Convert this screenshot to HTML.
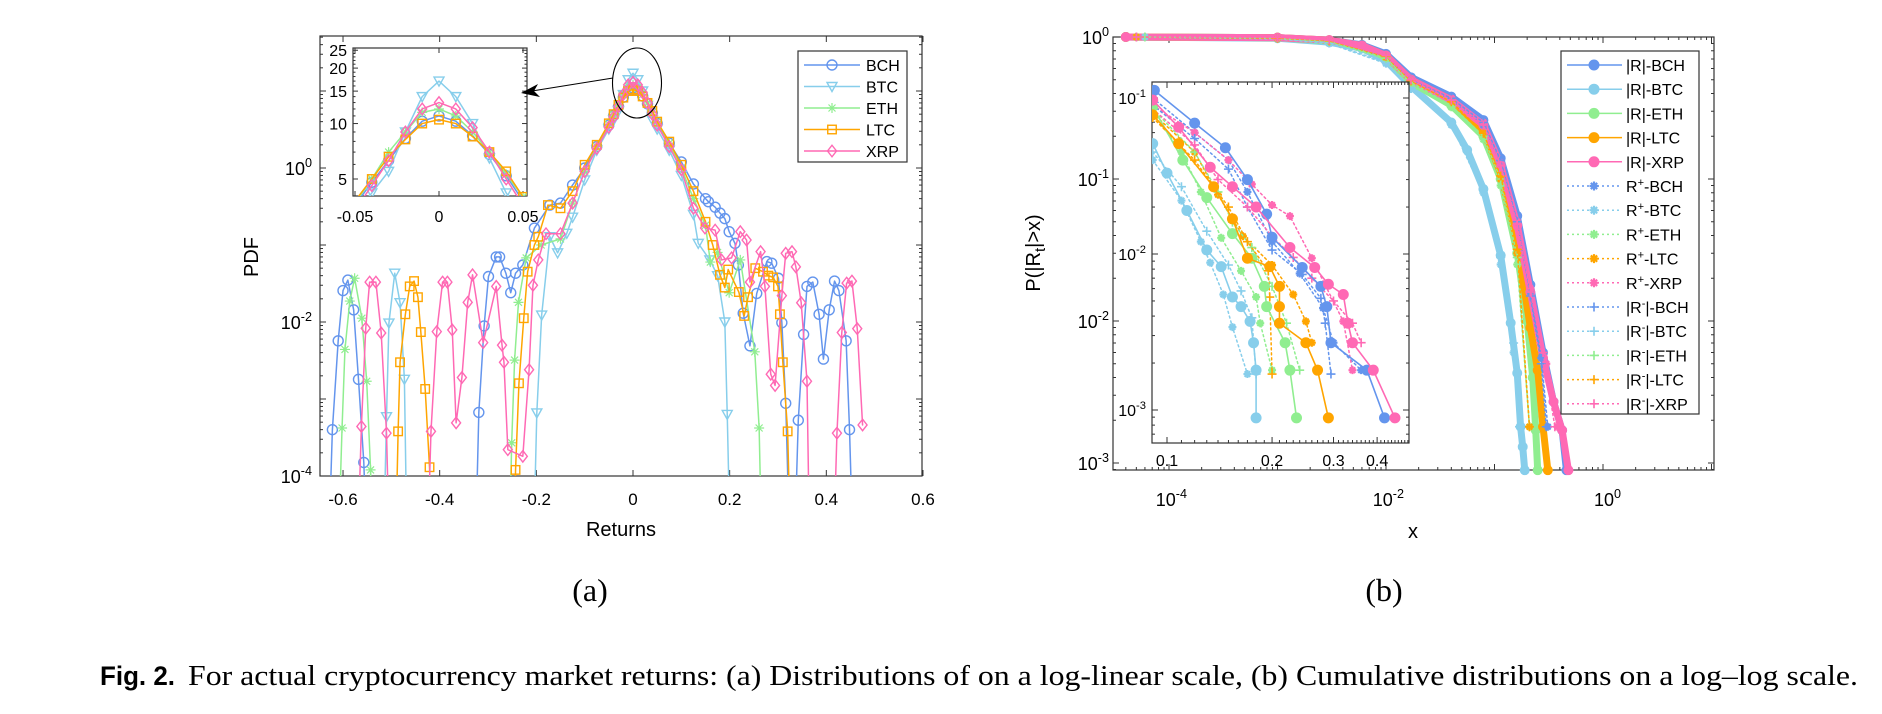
<!DOCTYPE html>
<html><head><meta charset="utf-8"><style>
html,body{margin:0;padding:0;background:#fff;width:1882px;height:714px;overflow:hidden;}
svg{display:block;font-family:"Liberation Sans",sans-serif;overflow:hidden;}
</style></head><body>
<svg id="fig" width="1882" height="714" viewBox="0 0 1882 714" xmlns="http://www.w3.org/2000/svg">
<defs>
<clipPath id="clipL"><rect x="320" y="36" width="602" height="440"/></clipPath>
<clipPath id="clipLI"><rect x="353" y="48" width="174" height="148"/></clipPath>
<clipPath id="clipR"><rect x="1113" y="30" width="601" height="446"/></clipPath>
<clipPath id="clipRI"><rect x="1152" y="82" width="257" height="361"/></clipPath>
</defs>
<g id="panelA"></g>
<g id="panelB"></g>
<text x="590" y="601" font-family="Liberation Serif,serif" font-size="32" text-anchor="middle">(a)</text>
<text x="1384" y="601" font-family="Liberation Serif,serif" font-size="32" text-anchor="middle">(b)</text>
<text x="100" y="685" font-family="Liberation Sans,sans-serif" font-weight="bold" font-size="27" textLength="75" lengthAdjust="spacingAndGlyphs">Fig. 2.</text>
<text x="188" y="685" font-family="Liberation Serif,serif" font-size="29" textLength="1670" lengthAdjust="spacingAndGlyphs">For actual cryptocurrency market returns: (a) Distributions of on a log-linear scale, (b) Cumulative distributions on a log–log scale.</text>
</svg>
<script>
// ---------- Panel (a) data: returns and PDF ----------
const bchR=[-0.635,-0.622,-0.610,-0.600,-0.590,-0.578,-0.568,-0.557,-0.545,-0.33,-0.319,-0.308,-0.299,-0.283,-0.276,-0.263,-0.253,-0.243,-0.228,-0.204,-0.172,-0.15,-0.125,-0.1,-0.075,-0.05,-0.04,-0.03,-0.02,-0.01,0,0.01,0.02,0.03,0.04,0.05,0.075,0.1,0.125,0.15,0.156,0.170,0.180,0.190,0.199,0.211,0.218,0.228,0.242,0.256,0.277,0.287,0.301,0.308,0.316,0.329,0.342,0.353,0.360,0.372,0.385,0.394,0.406,0.417,0.426,0.441,0.448,0.46];
const bchP=[1e-6,0.0004,0.0057,0.0256,0.035,0.0144,0.0018,0.00015,1e-6,1e-6,0.00067,0.0089,0.039,0.07,0.07,0.043,0.024,0.043,0.055,0.166,0.33,0.35,0.6,1.0,1.9,3.6,4.8,6.3,8.3,10.3,11,10.3,8.6,6.8,5.2,3.8,2.1,1.2,0.62,0.4,0.365,0.31,0.26,0.22,0.149,0.105,0.055,0.013,0.0049,0.0235,0.061,0.058,0.037,0.0098,0.00088,1e-6,0.00053,0.0069,0.029,0.033,0.0126,0.0033,0.0144,0.034,0.0256,0.0057,0.0004,1e-6];
const btcR=[-0.52,-0.510,-0.505,-0.493,-0.482,-0.473,-0.465,-0.21,-0.199,-0.189,-0.172,-0.156,-0.137,-0.125,-0.1,-0.075,-0.05,-0.04,-0.03,-0.02,-0.01,0,0.01,0.02,0.03,0.04,0.05,0.075,0.1,0.125,0.135,0.159,0.175,0.190,0.195,0.205];
const btcP=[1e-6,0.00059,0.0097,0.043,0.0178,0.0018,1e-6,1e-6,0.00066,0.0123,0.128,0.079,0.142,0.23,0.7,1.7,3.2,4.2,5.5,9,14,17,14,10,6.5,4.2,3.2,1.7,0.8,0.25,0.105,0.064,0.04,0.01,0.00063,1e-6];
const ethR=[-0.615,-0.602,-0.596,-0.586,-0.576,-0.561,-0.551,-0.543,-0.535,-0.26,-0.251,-0.245,-0.237,-0.221,-0.19,-0.15,-0.125,-0.1,-0.075,-0.05,-0.04,-0.03,-0.02,-0.01,0,0.01,0.02,0.03,0.04,0.05,0.075,0.1,0.125,0.15,0.16,0.175,0.199,0.222,0.252,0.261,0.27];
const ethP=[1e-6,0.00042,0.0044,0.0187,0.037,0.0112,0.0017,0.00012,1e-6,1e-6,0.00027,0.0032,0.018,0.068,0.1,0.12,0.35,0.9,1.9,3.7,5,7,9,11.5,12,11,9,7,5.3,4,2.1,1.0,0.4,0.18,0.06,0.08,0.024,0.064,0.0041,0.00042,1e-6];
const ltcR=[-0.495,-0.486,-0.482,-0.471,-0.462,-0.453,-0.445,-0.439,-0.430,-0.421,-0.41,-0.25,-0.243,-0.236,-0.226,-0.218,-0.204,-0.196,-0.176,-0.15,-0.125,-0.1,-0.075,-0.05,-0.04,-0.03,-0.02,-0.01,0,0.01,0.02,0.03,0.04,0.05,0.075,0.1,0.125,0.15,0.165,0.180,0.190,0.197,0.219,0.230,0.238,0.253,0.269,0.280,0.290,0.300,0.304,0.31,0.320,0.33];
const ltcP=[1e-6,0.00038,0.003,0.0126,0.029,0.034,0.021,0.0074,0.00135,0.00013,1e-6,1e-6,0.00012,0.0016,0.0112,0.045,0.1,0.128,0.33,0.3,0.5,1.1,2.0,3.8,5.0,6.6,8.2,10,10.5,10,8.5,7,5.5,4.0,2.2,1.1,0.5,0.2,0.1,0.041,0.028,0.048,0.0245,0.012,0.021,0.05,0.045,0.04,0.038,0.029,0.0126,0.003,0.00038,1e-6];
const xrpR=[-0.575,-0.562,-0.553,-0.545,-0.532,-0.521,-0.510,-0.50,-0.43,-0.418,-0.406,-0.394,-0.384,-0.374,-0.366,-0.354,-0.342,-0.332,-0.31,-0.283,-0.271,-0.267,-0.259,-0.228,-0.215,-0.207,-0.196,-0.18,-0.15,-0.125,-0.1,-0.075,-0.05,-0.04,-0.03,-0.02,-0.01,0,0.01,0.02,0.03,0.04,0.05,0.075,0.1,0.125,0.149,0.170,0.183,0.204,0.222,0.235,0.242,0.264,0.273,0.285,0.294,0.308,0.316,0.329,0.337,0.348,0.360,0.368,0.41,0.422,0.432,0.442,0.453,0.464,0.475];
const xrpP=[1e-6,0.00044,0.0083,0.033,0.033,0.0072,0.00036,1e-6,1e-6,0.00038,0.0075,0.033,0.033,0.0079,0.00049,0.0019,0.018,0.041,0.0054,0.029,0.005,0.003,0.00022,0.00018,0.0024,0.03,0.064,0.14,0.14,0.35,0.9,1.8,3.4,4.6,6.3,9,12,13,12,9.5,7,5,3.6,1.9,0.95,0.3,0.166,0.156,0.064,0.068,0.149,0.116,0.033,0.082,0.029,0.0021,0.0015,0.022,0.078,0.082,0.052,0.0178,0.0017,1e-6,1e-6,0.00036,0.0073,0.032,0.034,0.0082,0.00046];
const xTicksA=[-0.6,-0.4,-0.2,0,0.2,0.4,0.6];
const xTickLabelsA=['-0.6','-0.4','-0.2','0','0.2','0.4','0.6'];
const yTicksInsetA=[5,10,15,20,25];
const xTicksInsetA=[-0.05,0,0.05];

// ---------- Panel (b) data: CCDF ----------
const mBchX=[0.00004,0.001,0.003,0.006,0.01,0.017,0.04,0.079,0.114,0.162,0.214,0.28,0.35,0.42,0.46];
const mBchP=[1,0.99,0.95,0.88,0.76,0.52,0.38,0.26,0.14,0.055,0.018,0.006,0.0027,0.0017,0.00089];
const mBtcX=[0.00004,0.001,0.003,0.006,0.01,0.017,0.04,0.056,0.079,0.114,0.141,0.162,0.174,0.182,0.19];
const mBtcP=[1,0.98,0.92,0.83,0.68,0.45,0.25,0.16,0.085,0.029,0.0097,0.0043,0.0018,0.0013,0.00089];
const mEthX=[0.00004,0.001,0.003,0.006,0.01,0.017,0.04,0.079,0.114,0.162,0.2,0.225,0.24,0.25];
const mEthP=[1,0.99,0.94,0.86,0.72,0.48,0.33,0.2,0.1,0.03,0.01,0.004,0.0017,0.00089];
const mLtcX=[0.00004,0.001,0.003,0.006,0.01,0.017,0.04,0.079,0.114,0.162,0.214,0.25,0.28,0.31];
const mLtcP=[1,0.99,0.95,0.87,0.74,0.5,0.36,0.22,0.11,0.035,0.009,0.0045,0.0018,0.00089];
const mXrpX=[0.00004,0.001,0.003,0.006,0.01,0.017,0.04,0.079,0.114,0.162,0.214,0.28,0.35,0.42,0.48];
const mXrpP=[1,0.99,0.95,0.87,0.74,0.5,0.36,0.24,0.125,0.047,0.016,0.0055,0.0027,0.0017,0.00089];
const pBchX=[0.00005,0.001,0.003,0.01,0.017,0.04,0.079,0.114,0.162,0.214,0.27,0.31];
const pBchP=[1,0.98,0.93,0.72,0.5,0.36,0.24,0.13,0.05,0.016,0.0055,0.0018];
const pBtcX=[0.00006,0.001,0.003,0.01,0.017,0.04,0.079,0.114,0.15,0.174];
const pBtcP=[1,0.97,0.9,0.65,0.43,0.24,0.08,0.025,0.006,0.0018];
const pEthX=[0.00005,0.001,0.003,0.01,0.017,0.04,0.079,0.114,0.162,0.21];
const pEthP=[1,0.98,0.93,0.7,0.47,0.32,0.19,0.09,0.025,0.0018];
const pLtcX=[0.00005,0.001,0.003,0.01,0.017,0.04,0.079,0.114,0.162,0.21];
const pLtcP=[1,0.98,0.94,0.72,0.49,0.35,0.21,0.1,0.03,0.0018];
const pXrpX=[0.00004,0.001,0.003,0.01,0.017,0.04,0.079,0.114,0.162,0.214,0.3,0.38];
const pXrpP=[1,0.99,0.95,0.74,0.5,0.37,0.25,0.13,0.05,0.017,0.005,0.0018];
const nBchX=[0.00005,0.001,0.003,0.01,0.017,0.04,0.079,0.114,0.162,0.214,0.27,0.3];
const nBchP=[1,0.98,0.94,0.73,0.5,0.37,0.25,0.135,0.05,0.015,0.005,0.0018];
const nBtcX=[0.00005,0.001,0.003,0.01,0.017,0.04,0.079,0.114,0.15,0.17];
const nBtcP=[1,0.98,0.91,0.66,0.44,0.25,0.085,0.028,0.007,0.0018];
const nEthX=[0.00006,0.001,0.003,0.01,0.017,0.04,0.079,0.114,0.162,0.21];
const nEthP=[1,0.98,0.93,0.71,0.48,0.33,0.2,0.1,0.028,0.0018];
const nLtcX=[0.00005,0.001,0.003,0.01,0.017,0.04,0.079,0.114,0.162,0.21];
const nLtcP=[1,0.98,0.94,0.73,0.49,0.35,0.21,0.105,0.032,0.0018];
const nXrpX=[0.00005,0.001,0.003,0.01,0.017,0.04,0.079,0.114,0.162,0.214,0.28,0.36];
const nXrpP=[1,0.99,0.95,0.74,0.5,0.36,0.24,0.125,0.048,0.016,0.006,0.0018];
// inset (b)
const iBchX=[0.092,0.12,0.147,0.17,0.193,0.2,0.244,0.276,0.287,0.295,0.374,0.42];
const iBchP=[0.112,0.069,0.048,0.030,0.018,0.0128,0.0082,0.0062,0.0046,0.0027,0.0018,0.00089];
const iBtcX=[0.091,0.1,0.114,0.13,0.143,0.154,0.163,0.173,0.177,0.18,0.18];
const iBtcP=[0.051,0.033,0.019,0.0106,0.0083,0.0053,0.0046,0.0037,0.0027,0.0018,0.00089];
const iEthX=[0.091,0.111,0.13,0.154,0.175,0.19,0.193,0.218,0.225,0.235];
const iEthP=[0.088,0.040,0.023,0.0135,0.0094,0.0062,0.0046,0.0027,0.0018,0.00089];
const iLtcX=[0.091,0.108,0.136,0.154,0.17,0.197,0.21,0.21,0.21,0.25,0.27,0.29];
const iLtcP=[0.078,0.051,0.027,0.0168,0.0094,0.0083,0.0062,0.0046,0.0036,0.0027,0.0018,0.00089];
const iXrpX=[0.091,0.108,0.133,0.154,0.18,0.225,0.265,0.29,0.32,0.33,0.34,0.39,0.45];
const iXrpP=[0.097,0.065,0.036,0.027,0.020,0.011,0.0082,0.0064,0.0055,0.0036,0.0027,0.0018,0.00089];
const ipBchX=[0.091,0.12,0.15,0.17,0.2,0.24,0.28,0.3,0.36];
const ipBchP=[0.1,0.06,0.04,0.025,0.012,0.0075,0.0045,0.0027,0.0018];
const ipBtcX=[0.091,0.11,0.125,0.133,0.145,0.154,0.17];
const ipBtcP=[0.04,0.022,0.012,0.0088,0.0055,0.0034,0.0017];
const ipEthX=[0.091,0.11,0.125,0.143,0.163,0.18,0.185,0.2];
const ipEthP=[0.08,0.045,0.025,0.0127,0.0078,0.0053,0.0036,0.0018];
const ipLtcX=[0.091,0.12,0.14,0.165,0.2,0.23,0.25,0.26];
const ipLtcP=[0.08,0.045,0.024,0.013,0.0085,0.0055,0.0037,0.0027];
const ipXrpX=[0.091,0.12,0.15,0.175,0.2,0.225,0.26,0.32,0.34];
const ipXrpP=[0.09,0.06,0.04,0.028,0.0206,0.0175,0.0094,0.0037,0.0018];
const inBchX=[0.091,0.12,0.15,0.17,0.2,0.244,0.276,0.284,0.295];
const inBchP=[0.09,0.055,0.035,0.02,0.0106,0.0074,0.0052,0.0036,0.0017];
const inBtcX=[0.091,0.11,0.13,0.15,0.163,0.175,0.18];
const inBtcP=[0.045,0.027,0.014,0.0085,0.0058,0.0039,0.0017];
const inEthX=[0.091,0.12,0.14,0.154,0.175,0.2,0.22,0.24];
const inEthP=[0.085,0.045,0.025,0.016,0.011,0.0062,0.0036,0.0018];
const inLtcX=[0.091,0.12,0.15,0.17,0.195,0.197,0.2];
const inLtcP=[0.075,0.04,0.02,0.012,0.0078,0.0053,0.0017];
const inXrpX=[0.091,0.12,0.14,0.17,0.2,0.23,0.26,0.3,0.34,0.36];
const inXrpP=[0.085,0.05,0.03,0.02,0.013,0.0095,0.007,0.005,0.0036,0.0027];

const C={BCH:'#6495ED',BTC:'#87CEEB',ETH:'#90EE90',LTC:'#FFA500',XRP:'#FF69B4'};
const NS='http://www.w3.org/2000/svg';
function mk(tag,attrs,parent){const e=document.createElementNS(NS,tag);for(const k in attrs)e.setAttribute(k,attrs[k]);parent.appendChild(e);return e;}
function txt(parent,x,y,s,size,anchor,name){const t=mk('text',{x:x,y:y,'font-size':size,'text-anchor':anchor||'middle'},parent);t.textContent=s;


return t;}
function pow10(parent,x,y,exp,size,name){const t=mk('text',{x:x,y:y,'font-size':size,'text-anchor':'end'},parent);


const a=mk('tspan',{},t);a.textContent='10';const b=mk('tspan',{dy:-size*0.45,'font-size':size*0.7},t);b.textContent=exp;return t;}
function marker(g,type,cx,cy,c,s){let e;
 if(type==='o')e=mk('circle',{cx:cx,cy:cy,r:s,fill:'none',stroke:c,'stroke-width':1.4},g);
 else if(type==='O')e=mk('circle',{cx:cx,cy:cy,r:s,fill:c,stroke:c,'stroke-width':1},g);
 else if(type==='v')e=mk('polygon',{points:`${cx-s},${cy-s*0.8} ${cx+s},${cy-s*0.8} ${cx},${cy+s}`,fill:'none',stroke:c,'stroke-width':1.4},g);
 else if(type==='s')e=mk('rect',{x:cx-s*0.85,y:cy-s*0.85,width:s*1.7,height:s*1.7,fill:'none',stroke:c,'stroke-width':1.4},g);
 else if(type==='d')e=mk('polygon',{points:`${cx},${cy-s*1.15} ${cx+s*0.9},${cy} ${cx},${cy+s*1.15} ${cx-s*0.9},${cy}`,fill:'none',stroke:c,'stroke-width':1.4},g);
 else if(type==='*'||type==='S'){const r=s,q=s*0.7;e=mk('path',{d:`M${cx-r},${cy}H${cx+r}M${cx},${cy-r}V${cy+r}M${cx-q},${cy-q}L${cx+q},${cy+q}M${cx-q},${cy+q}L${cx+q},${cy-q}`,stroke:c,'stroke-width':type==='S'?2.2:1.2,fill:'none'},g);}
 else if(type==='+')e=mk('path',{d:`M${cx-s},${cy}H${cx+s}M${cx},${cy-s}V${cy+s}`,stroke:c,'stroke-width':1.6,fill:'none'},g);
 
 
 return e;}
function series(parent,xs,ys,fx,fy,c,mtype,ms,lw,dash,clip,name){
 const g=mk('g',{'clip-path':`url(#${clip})`},parent);
 
 
 const pts=xs.map((x,i)=>fx(x).toFixed(2)+','+fy(ys[i]).toFixed(2)).join(' ');
 const pl=mk('polyline',{points:pts,fill:'none',stroke:c,'stroke-width':lw,'stroke-linejoin':'round','stroke-linecap':'round'},g);
 if(dash)pl.setAttribute('stroke-dasharray',dash);
 
 
 xs.forEach((x,i)=>{if(ys[i]>1e-5)marker(g,mtype,fx(x),fy(ys[i]),c,ms);});
}
function line(p,x1,y1,x2,y2,sw,col){return mk('line',{x1:x1,y1:y1,x2:x2,y2:y2,stroke:col||'#333','stroke-width':sw||1},p);}

// ================= PANEL A =================
const A=document.getElementById('panelA');
const L={x0:320,x1:922,y0:36,y1:476};
const xL=r=>633+r*483.3, yL=p=>168-Math.log10(p)*77;
const xI=r=>439+r*1680, yI=v=>179-Math.log(v/5)*80;
const axA=mk('rect',{x:L.x0,y:L.y0,width:L.x1-L.x0,height:L.y1-L.y0,fill:'#fff',stroke:'#333','stroke-width':1.2},A);


xTicksA.forEach((t,i)=>{const x=xL(t);line(A,x,L.y1,x,L.y1-6);line(A,x,L.y0,x,L.y0+6);txt(A,x,505,xTickLabelsA[i],17,'middle','x-tick-label');});
for(let d=-4;d<=1;d++){for(let k=1;k<10;k++){const y=yL(k*Math.pow(10,d));if(y<L.y0||y>L.y1)continue;const len=k===1?6:3;line(A,L.x0,y,L.x0+len,y);line(A,L.x1,y,L.x1-len,y);}}
[[-4,'-4'],[-2,'-2'],[0,'0']].forEach(([d,s])=>pow10(A,312,yL(Math.pow(10,d))+7,s,18,'y-tick-label'));
txt(A,621,536,'Returns',20,'middle','x-axis-title');
const yl=txt(A,0,0,'PDF',20,'middle','y-axis-title');yl.setAttribute('transform','translate(258,257) rotate(-90)');
const SA=[['BCH',bchR,bchP,'o'],['BTC',btcR,btcP,'v'],['ETH',ethR,ethP,'*'],['LTC',ltcR,ltcP,'s'],['XRP',xrpR,xrpP,'d']];
SA.forEach(([n,r,p,m])=>series(A,r,p,xL,yL,C[n],m,5,1.5,null,'clipL','series-'+n.toLowerCase()));
// inset a
const ia=mk('rect',{x:353,y:48,width:174,height:148,fill:'#fff',stroke:'#333','stroke-width':1.2},A);


for(let v=4;v<=26;v++){const y=yI(v);if(y<48||y>196)continue;const len=(v%5===0)?5:2.5;line(A,353,y,353+len,y);line(A,527,y,527-len,y);}
yTicksInsetA.forEach(v=>txt(A,347,yI(v)+6,String(v),16,'end','inset-y-tick-label'));
xTicksInsetA.forEach(v=>{const x=xI(v);line(A,x,196,x,191);line(A,x,48,x,53);txt(A,x,222,String(v),16,'middle','inset-x-tick-label');});
SA.forEach(([n,r,p,m])=>series(A,r,p,xI,yI,C[n],m,5,1.5,null,'clipLI','inset-series-'+n.toLowerCase()));
const el=mk('ellipse',{cx:637,cy:83,rx:24.5,ry:35,fill:'none',stroke:'#000','stroke-width':1.1},A);


const ar=mk('line',{x1:613,y1:78,x2:532,y2:91,stroke:'#000','stroke-width':1.1},A);


const ah=mk('polygon',{points:'521,93 538,84 534,91 540,97',fill:'#000'},A);


// legend a
const lga=mk('g',{},A);


const lbA=mk('rect',{x:798,y:51,width:109,height:111,fill:'#fff',stroke:'#333','stroke-width':1.2},lga);


SA.forEach(([n,r,p,m],i)=>{const y=65+i*21.5;const g=mk('g',{},lga);
 
 
 line(g,804,y,860,y,1.5,C[n]);marker(g,m,832,y,C[n],5);txt(g,866,y+6,n,16,'start','legend-label');});

// ================= PANEL B =================
const B=document.getElementById('panelB');
const R={x0:1113,x1:1714,y0:37,y1:470};
const xR=x=>1603+Math.log10(x)*108.5, yR=p=>37-Math.log10(p)*142;
const xRI=x=>1167+Math.log10(x/0.1)*349, yRI=p=>98-(Math.log10(p)+1)*156;
const axB=mk('rect',{x:R.x0,y:R.y0,width:R.x1-R.x0,height:R.y1-R.y0,fill:'#fff',stroke:'#333','stroke-width':1.2},B);


for(let d=-5;d<=1;d++){for(let k=1;k<10;k++){const x=xR(k*Math.pow(10,d));if(x<R.x0||x>R.x1)continue;const len=k===1?6:3;line(B,x,R.y1,x,R.y1-len);line(B,x,R.y0,x,R.y0+len);}}
for(let d=-4;d<=0;d++){for(let k=1;k<10;k++){const y=yR(k*Math.pow(10,d));if(y<R.y0-0.5||y>R.y1)continue;const len=k===1?6:3;line(B,R.x0,y,R.x0+len,y);line(B,R.x1,y,R.x1-len,y);}}
[[-4,'-4'],[-2,'-2'],[0,'0']].forEach(([d,s])=>pow10(B,xR(Math.pow(10,d))+18,506,s,18,'x-tick-label'));
[[0,'0'],[-1,'-1'],[-2,'-2'],[-3,'-3']].forEach(([d,s])=>pow10(B,1109,yR(Math.pow(10,d))+7,s,18,'y-tick-label'));
txt(B,1413,538,'x',20,'middle','x-axis-title');
const ylb=mk('text',{'font-size':20,'text-anchor':'middle',transform:'translate(1040,253) rotate(-90)'},B);


{const a=mk('tspan',{},ylb);a.textContent='P(|R';const b=mk('tspan',{dy:5,'font-size':15},ylb);b.textContent='t';const c=mk('tspan',{dy:-5},ylb);c.textContent='|>x)';}
const SM=[['BCH',mBchX,mBchP],['BTC',mBtcX,mBtcP],['ETH',mEthX,mEthP],['LTC',mLtcX,mLtcP],['XRP',mXrpX,mXrpP]];
const SP=[['BCH',pBchX,pBchP],['BTC',pBtcX,pBtcP],['ETH',pEthX,pEthP],['LTC',pLtcX,pLtcP],['XRP',pXrpX,pXrpP]];
const SN=[['BCH',nBchX,nBchP],['BTC',nBtcX,nBtcP],['ETH',nEthX,nEthP],['LTC',nLtcX,nLtcP],['XRP',nXrpX,nXrpP]];
SM.forEach(([n,x,p])=>series(B,x,p,xR,yR,C[n],'O',4.5,7,null,'clipR','abs-'+n.toLowerCase()));
SP.forEach(([n,x,p])=>series(B,x,p,xR,yR,C[n],'S',4,1.5,'2,3','clipR','pos-'+n.toLowerCase()));
SN.forEach(([n,x,p])=>series(B,x,p,xR,yR,C[n],'+',4.5,1.5,'2,3','clipR','neg-'+n.toLowerCase()));
// inset b
const ib=mk('rect',{x:1152,y:82,width:257,height:361,fill:'#fff',stroke:'#333','stroke-width':1.2},B);


for(let k=9;k<=50;k++){const v=k/100;if(v<0.0906||v>0.493)continue;const x=xRI(v);const len=(k%10===0)?6:3;line(B,x,443,x,443-len);line(B,x,82,x,82+len);}
for(let d=-4;d<=-1;d++){for(let k=1;k<10;k++){const y=yRI(k*Math.pow(10,d));if(y<82||y>443)continue;const len=k===1?6:3;line(B,1152,y,1152+len,y);line(B,1409,y,1409-len,y);}}
[[0.1,'0.1'],[0.2,'0.2'],[0.3,'0.3'],[0.4,'0.4']].forEach(([v,s])=>txt(B,xRI(v),466,s,16,'middle','inset-x-tick-label'));
[[-1,'-1'],[-2,'-2'],[-3,'-3']].forEach(([d,s])=>pow10(B,1146,yRI(Math.pow(10,d))+6,s,16,'inset-y-tick-label'));
const IM=[['BCH',iBchX,iBchP],['BTC',iBtcX,iBtcP],['ETH',iEthX,iEthP],['LTC',iLtcX,iLtcP],['XRP',iXrpX,iXrpP]];
const IP=[['BCH',ipBchX,ipBchP],['BTC',ipBtcX,ipBtcP],['ETH',ipEthX,ipEthP],['LTC',ipLtcX,ipLtcP],['XRP',ipXrpX,ipXrpP]];
const IN=[['BCH',inBchX,inBchP],['BTC',inBtcX,inBtcP],['ETH',inEthX,inEthP],['LTC',inLtcX,inLtcP],['XRP',inXrpX,inXrpP]];
IP.forEach(([n,x,p])=>series(B,x,p,xRI,yRI,C[n],'S',4,1.5,'2,3','clipRI','inset-pos-'+n.toLowerCase()));
IN.forEach(([n,x,p])=>series(B,x,p,xRI,yRI,C[n],'+',4.5,1.5,'2,3','clipRI','inset-neg-'+n.toLowerCase()));
IM.forEach(([n,x,p])=>series(B,x,p,xRI,yRI,C[n],'O',5,1.6,null,'clipRI','inset-abs-'+n.toLowerCase()));
// legend b
const lgb=mk('g',{},B);


const lbB=mk('rect',{x:1561,y:51,width:138,height:363,fill:'#fff',stroke:'#333','stroke-width':1.2},lgb);


const names=['BCH','BTC','ETH','LTC','XRP'];
for(let i=0;i<15;i++){const grp=Math.floor(i/5),n=names[i%5],y=65+i*24.2,c=C[n];
 const g=mk('g',{},lgb);
 
 
 const ln=line(g,1567,y,1622,y,1.5,c);if(grp>0)ln.setAttribute('stroke-dasharray','2,3');
 marker(g,grp===0?'O':(grp===1?'S':'+'),1594,y,c,grp===0?5:4.5);
 const t=mk('text',{x:1626,y:y+6,'font-size':16},g);
 
 
 if(grp===0){t.textContent='|R|-'+n;}
 else if(grp===1){const a=mk('tspan',{},t);a.textContent='R';const b=mk('tspan',{dy:-6,'font-size':11},t);b.textContent='+';const d=mk('tspan',{dy:6},t);d.textContent='-'+n;}
 else{const a=mk('tspan',{},t);a.textContent='|R';const b=mk('tspan',{dy:-6,'font-size':11},t);b.textContent='-';const d=mk('tspan',{dy:6},t);d.textContent='|-'+n;}
}
</script>
</body></html>
